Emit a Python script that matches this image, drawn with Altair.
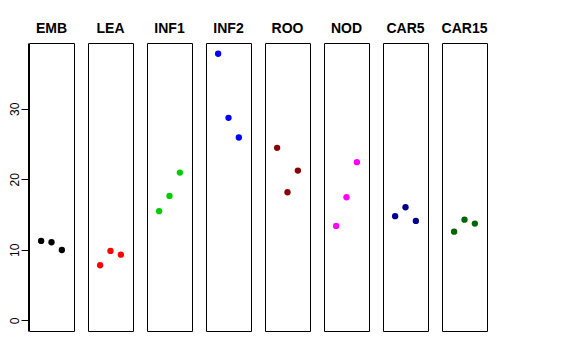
import altair as alt
import pandas as pd

panels = ["EMB", "LEA", "INF1", "INF2", "ROO", "NOD", "CAR5", "CAR15"]
colors = ["#000000", "#FF0000", "#00CD00", "#0000FF", "#8B0000", "#FF00FF", "#00008B", "#006400"]
values = [
    [11.26, 11.07, 9.98],
    [7.81, 9.84, 9.32],
    [15.48, 17.65, 20.96],
    [37.81, 28.72, 25.93],
    [24.46, 18.17, 21.24],
    [13.39, 17.46, 22.43],
    [14.77, 16.04, 14.10],
    [12.58, 14.28, 13.72],
]
offsets = [-1, 0, 1]
y_ticks = [0, 10, 20, 30]

rows = []
for p, vals in zip(panels, values):
    for o, v in zip(offsets, vals):
        rows.append({"panel": p, "pos": o, "value": v})
df = pd.DataFrame(rows)

base = alt.Chart(df).mark_circle(size=40, opacity=1).encode(
    x=alt.X("pos:Q", axis=None, scale=alt.Scale(domain=[-2.17, 2.17], nice=False, zero=False)),
    y=alt.Y("value:Q", title=None,
            scale=alt.Scale(domain=[-1.51, 39.33], nice=False, zero=False),
            axis=alt.Axis(values=y_ticks, grid=False, tickSize=7, tickColor="black",
                          domainColor="black", labelAngle=270, labelFontSize=12,
                          labelFont="Liberation Sans", labelColor="black", labelPadding=0)),
    color=alt.Color("panel:N", scale=alt.Scale(domain=panels, range=colors), legend=None),
).properties(width=45, height=288)

chart = base.facet(
    column=alt.Column("panel:N", sort=panels, title=None,
                      header=alt.Header(labelOrient="top", labelFontWeight="bold",
                                        labelFontSize=14, labelFont="Liberation Sans",
                                        labelColor="black", labelPadding=6)),
    spacing=12,
).properties(padding={"top": 14, "left": 0, "right": 0, "bottom": 0}).configure_view(
    stroke="black", strokeWidth=1
)

chart.save("out.html", embed_options={"renderer": "svg", "actions": False})
